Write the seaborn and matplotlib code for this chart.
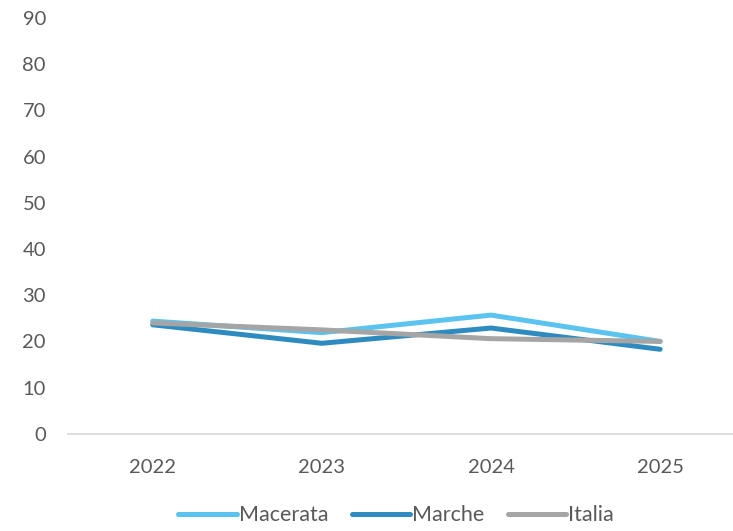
import matplotlib
matplotlib.use("Agg")
import matplotlib.pyplot as plt
import pandas as pd
import seaborn as sns

years = ["2022", "2023", "2024", "2025"]
macerata = [24.4, 21.9, 25.7, 20.0]
marche = [23.6, 19.6, 22.9, 18.3]
italia = [24.0, 22.5, 20.6, 20.0]

series_names = ["Macerata", "Marche", "Italia"]
colors = ["#5BC3F0", "#2E8BC0", "#A5A5A5"]

df = pd.DataFrame({"anno": years * 3,
                   "valore": macerata + marche + italia,
                   "serie": [s for s in series_names for _ in years]})

sns.set_theme(style="white")
plt.rcParams["font.family"] = ["Lato", "DejaVu Sans"]

fig, ax = plt.subplots(figsize=(7.33, 5.31), dpi=100)
sns.lineplot(data=df, x="anno", y="valore", hue="serie", palette=colors,
             linewidth=3.6, ax=ax, sort=False)
for ln in ax.get_lines():
    ln.set_solid_capstyle("round")

ax.set_ylim(0, 90)
ax.set_yticks(range(0, 91, 10))
ax.set_xlim(-0.5, 3.5)
ax.set_xlabel("")
ax.set_ylabel("")
for s in ["top", "right", "left"]:
    ax.spines[s].set_visible(False)
ax.spines["bottom"].set_color("#D9D9D9")
ax.tick_params(axis="both", length=0, labelsize=14.5, colors="#595959")
ax.tick_params(axis="y", pad=16)
ax.tick_params(axis="x", pad=18)

handles, labels = ax.get_legend_handles_labels()
ax.legend(handles, labels, loc="upper center", bbox_to_anchor=(0.485, -0.125),
          ncol=3, frameon=False, fontsize=15.5, handlelength=2.7,
          handletextpad=0.1, columnspacing=1.1, labelcolor="#595959")

fig.subplots_adjust(left=0.093, right=1.016, top=0.966, bottom=0.183)
fig.savefig("out.png", dpi=100)
